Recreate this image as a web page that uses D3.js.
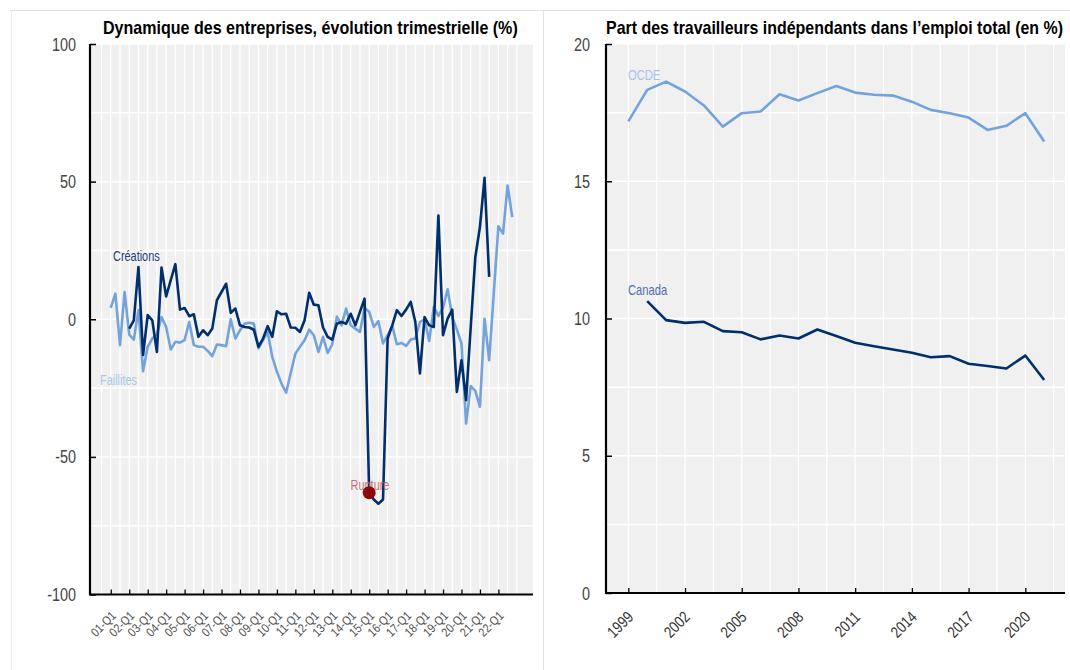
<!DOCTYPE html>
<html><head><meta charset="utf-8">
<script src="https://cdn.jsdelivr.net/npm/d3@7"></script>
<style>
body{margin:0;background:#fff;}
svg{display:block;}
text{font-family:"Liberation Sans",Arial,sans-serif;}
</style></head>
<body><svg id="c" width="1070" height="670"></svg>
<script>
// ---------- DATA ----------
const yearLabels = ["01","02","03","04","05","06","07","08","09","10","11","12","13","14","15","16","17","18","19","20","21","22"];
const quarters = yearLabels.flatMap(y => ["Q1","Q2","Q3","Q4"].map(q => y + "-" + q));
const faillites = [4.1,9.3,-9.4,9.9,-5.6,-7.4,3.3,-18.9,-10,-7,-5.5,0.8,-2.8,-11,-8.2,-8.5,-7.6,-1,-9.4,-10,
  -10,-11.5,-13.4,-9.2,-9.4,-9.8,0,-7,-4,-1.6,-1.3,-1.6,-10.6,-7.6,-4.6,-13.7,-19,-23.4,-26.7,-19.5,
  -12.5,-10,-7.6,-3.8,-5.8,-11.9,-6.4,-12.2,-9.1,1,-2.2,3.9,-2.2,-3.4,-4.6,4.1,2.7,-2.8,-0.7,-8.8,
  -5.8,-2.4,-9.1,-8.6,-9.7,-7.4,-7,-1,0,-7.9,4.5,1.2,4.2,10.9,0.8,-3.8,-8.8,-37.9,-24.3,-26,
  -31.8,0.2,-14.9,9.5,33.8,31.1,48.6,37.1];
const creations = [null,null,null,null,-3.4,-0.4,19,-13,1.5,-0.4,-11.9,18.8,8.3,14.2,20,3.5,4.1,1.1,1.8,-6.4,
  -4,-5.8,-3.4,6.9,9.9,12.9,2.3,3.9,-2.2,-2.8,-3,-3.8,-10,-7,-2.5,-6.4,2.9,1.8,2,-3,
  -3.1,-4.6,-0.4,9.6,5.3,5.1,-3,-6.4,-7.4,-1.6,-1,-1.6,2,-2.2,2.7,7.5,-63,-65.5,-67,-65.5,
  -7,-2.2,3.3,1.2,3.5,6.3,-1,-19.7,0.8,-2.2,-2.8,37.7,-5.8,0.2,3.5,-26.4,-14.9,-29.4,-3,22.6,
  33.5,51.4,15.4];
const ruptureQuarter = "15-Q1";
const ruptureValue = -63;
const leftYTicks = [100,50,0,-50,-100];

const years = d3.range(1999, 2022);
const ocde = [17.18,18.33,18.63,18.27,17.76,16.99,17.48,17.54,18.17,17.94,18.21,18.47,18.23,18.15,18.12,17.9,17.6,17.48,17.32,16.87,17.02,17.48,16.45];
const canada = [null,10.63,9.94,9.84,9.88,9.54,9.5,9.24,9.38,9.27,9.6,9.36,9.12,8.99,8.87,8.75,8.59,8.63,8.35,8.27,8.18,8.65,7.76];
const rightYTicks = [20,15,10,5,0];
const rightXTicks = [1999,2002,2005,2008,2011,2014,2017,2020];

// ---------- STYLE ----------
const C_DARK = "#002f6c", C_LIGHT = "#74a3dc";
const NARROW = 0.8;
const svg = d3.select("#c");

// narrow text helper (condensed look)
function ntext(g, x, y, txt, opts) {
  const o = Object.assign({size:13, fill:"#444", anchor:"start", rotate:0, sx:NARROW, weight:"normal"}, opts||{});
  return g.append("text")
    .attr("transform", `translate(${x},${y}) rotate(${o.rotate}) scale(${o.sx},1)`)
    .attr("text-anchor", o.anchor).attr("font-size", o.size).attr("fill", o.fill)
    .attr("font-weight", o.weight).text(txt);
}
// title fitted to a given width via horizontal scale
function title(g, x, y, w, txt) {
  const t = g.append("text").attr("font-size",18).attr("font-weight","bold").attr("fill","#000").text(txt);
  const nat = t.node().getComputedTextLength();
  t.attr("transform", `translate(${x},${y}) scale(${w/nat},1)`);
  return t;
}

// frame lines
svg.append("line").attr("x1",10).attr("x2",1070).attr("y1",10.5).attr("y2",10.5).attr("stroke","#e2e2e2");
svg.append("line").attr("x1",11.5).attr("x2",11.5).attr("y1",10).attr("y2",670).attr("stroke","#ececec");
svg.append("line").attr("x1",543.5).attr("x2",543.5).attr("y1",10).attr("y2",670).attr("stroke","#e2e2e2");

// ---------- LEFT CHART ----------
const qi = d => quarters.indexOf(d);
const xL = d3.scaleLinear().domain([-4.5, 91.5]).range([90, 533]);
const yL = d3.scaleLinear().domain([-100, 100]).range([594.5, 44]);
const gL = svg.append("g");
gL.append("rect").attr("x",xL.range()[0]).attr("y",yL(100)).attr("width",xL.range()[1]-xL.range()[0]).attr("height",yL(-100)-yL(100)).attr("fill","#f0f0f0");
gL.selectAll(".vg").data(d3.range(-2, 90, 2)).join("line")
  .attr("x1",d=>xL(d)).attr("x2",d=>xL(d)).attr("y1",yL(100)).attr("y2",yL(-100)).attr("stroke","#fff").attr("stroke-width",1.3);
gL.selectAll(".hg").data(d3.range(-75, 101, 25)).join("line")
  .attr("x1",xL.range()[0]).attr("x2",xL.range()[1]).attr("y1",d=>yL(d)).attr("y2",d=>yL(d)).attr("stroke","#fff").attr("stroke-width",1.5);

const axYL = gL.append("g").attr("transform",`translate(${xL.range()[0]},0)`)
  .call(d3.axisRight(yL).tickValues(leftYTicks).tickSize(6).tickFormat(""));
axYL.select(".domain").remove();
axYL.selectAll("line").attr("stroke","#000").attr("stroke-width",1.5);
leftYTicks.forEach(d => ntext(gL, 76, yL(d)+6.5, d, {size:18, anchor:"end", fill:"#444"}));
const q1s = quarters.filter(q => q.endsWith("Q1"));
const axXL = gL.append("g").attr("transform",`translate(0,${yL(-100)})`)
  .call(d3.axisTop(xL).tickValues(q1s.map(qi)).tickSize(5).tickFormat(""));
axXL.select(".domain").remove();
axXL.selectAll("line").attr("stroke","#000").attr("stroke-width",1.3);
q1s.forEach(d => ntext(gL, xL(qi(d))+6, yL(-100)+22, d, {size:12.5, anchor:"end", rotate:-45, sx:0.85, fill:"#555"}));
gL.append("path").attr("d",`M${xL.range()[0]},${yL(100)}V${yL(-100)}H${xL.range()[1]}`)
  .attr("fill","none").attr("stroke","#000").attr("stroke-width",2.2);

const lineL = d3.line().defined(d=>d.v!=null).x(d=>xL(d.i)).y(d=>yL(d.v));
gL.append("path").datum(faillites.map((v,i)=>({i,v})))
  .attr("d",lineL).attr("fill","none").attr("stroke",C_LIGHT).attr("stroke-width",2.6).attr("stroke-linejoin","round");
gL.append("path").datum(creations.map((v,i)=>({i,v})))
  .attr("d",lineL).attr("fill","none").attr("stroke",C_DARK).attr("stroke-width",2.6).attr("stroke-linejoin","round");

ntext(gL, 113, 261, "Créations", {size:14, fill:"#1d3d78", sx:0.78});
ntext(gL, 100, 385, "Faillites", {size:14, fill:"#aac6ea", sx:0.78});
ntext(gL, 370, 490, "Rupture", {size:14, fill:"#c87070", anchor:"middle", sx:0.78});
gL.append("circle").attr("cx",xL(qi(ruptureQuarter))).attr("cy",yL(ruptureValue)).attr("r",6.5).attr("fill","#8e0a0a");

title(gL, 103, 34, 415, "Dynamique des entreprises, évolution trimestrielle (%)");

// ---------- RIGHT CHART ----------
const xR = d3.scaleLinear().domain([1997.82, 2022.1]).range([606, 1065]);
const yR = d3.scaleLinear().domain([0, 20]).range([593, 44]);
const gR = svg.append("g");
gR.append("rect").attr("x",xR.range()[0]).attr("y",yR(20)).attr("width",xR.range()[1]-xR.range()[0]).attr("height",yR(0)-yR(20)).attr("fill","#f0f0f0");
gR.selectAll(".vg").data(d3.range(1999, 2022.1, 1.5)).join("line")
  .attr("x1",d=>xR(d)).attr("x2",d=>xR(d)).attr("y1",yR(20)).attr("y2",yR(0)).attr("stroke","#fff").attr("stroke-width",1.3);
gR.selectAll(".hg").data(d3.range(2.5, 20.1, 2.5)).join("line")
  .attr("x1",xR.range()[0]).attr("x2",xR.range()[1]).attr("y1",d=>yR(d)).attr("y2",d=>yR(d)).attr("stroke","#fff").attr("stroke-width",1.5);
const axYR = gR.append("g").attr("transform",`translate(${xR.range()[0]},0)`)
  .call(d3.axisRight(yR).tickValues(rightYTicks).tickSize(6).tickFormat(""));
axYR.select(".domain").remove();
axYR.selectAll("line").attr("stroke","#000").attr("stroke-width",1.5);
rightYTicks.forEach(d => ntext(gR, 590, yR(d)+6.5, d, {size:18, anchor:"end", fill:"#444"}));
const axXR = gR.append("g").attr("transform",`translate(0,${yR(0)})`)
  .call(d3.axisTop(xR).tickValues(rightXTicks).tickSize(5).tickFormat(""));
axXR.select(".domain").remove();
axXR.selectAll("line").attr("stroke","#000").attr("stroke-width",1.3);
rightXTicks.forEach(d => ntext(gR, xR(d)+6, yR(0)+25, d, {size:16, anchor:"end", rotate:-45, sx:0.82, fill:"#333"}));
gR.append("path").attr("d",`M${xR.range()[0]},${yR(20)}V${yR(0)}H${xR.range()[1]}`)
  .attr("fill","none").attr("stroke","#000").attr("stroke-width",2.2);

const lineR = d3.line().defined(d=>d.v!=null).x(d=>xR(d.y)).y(d=>yR(d.v));
gR.append("path").datum(years.map((y,k)=>({y,v:ocde[k]})))
  .attr("d",lineR).attr("fill","none").attr("stroke",C_LIGHT).attr("stroke-width",2.6).attr("stroke-linejoin","round");
gR.append("path").datum(years.map((y,k)=>({y,v:canada[k]})))
  .attr("d",lineR).attr("fill","none").attr("stroke",C_DARK).attr("stroke-width",2.6).attr("stroke-linejoin","round");
ntext(gR, 628, 80, "OCDE", {size:14, fill:"#a9c3e6", sx:0.8});
ntext(gR, 628, 295, "Canada", {size:14, fill:"#4f6fa3", sx:0.8});

title(gR, 606, 34, 457, "Part des travailleurs indépendants dans l’emploi total (en %)");
</script></body></html>
